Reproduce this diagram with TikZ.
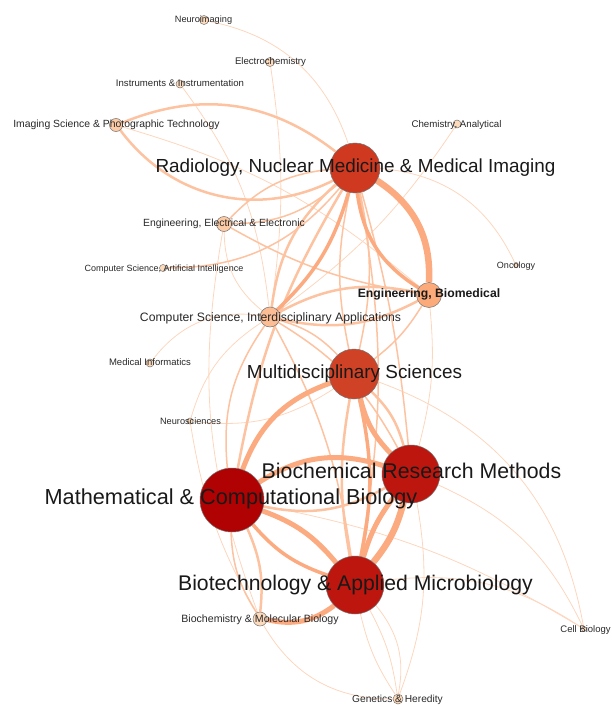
\documentclass[tikz,border=0pt]{standalone}
\usepackage{fontspec}
\setmainfont{Liberation Sans}
\pgfdeclarelayer{edges}
\pgfsetlayers{edges,main}

% node fills
\definecolor{radc}{RGB}{207,57,32}
\definecolor{msc}{RGB}{208,66,38}
\definecolor{brmc}{RGB}{189,22,14}
\definecolor{bamc}{RGB}{189,22,14}
\definecolor{mcbc}{RGB}{176,2,2}
\definecolor{ebc}{RGB}{252,170,122}
\definecolor{csic}{RGB}{252,188,148}
\definecolor{midc}{RGB}{253,202,166}
\definecolor{lowc}{RGB}{253,218,188}
% link colours
\definecolor{eThin}{RGB}{253,214,190}
\definecolor{eMid}{RGB}{253,194,160}
\definecolor{eThick}{RGB}{252,170,128}
\definecolor{labc}{RGB}{40,40,40}

\begin{document}
\begin{tikzpicture}[x=1pt,y=1pt,
  topic/.style={circle, draw=black!55, line width=0.5pt, inner sep=0pt, minimum size=#1},
  lab/.style={anchor=base, inner sep=0pt, text=labc},
  big/.style={lab, text=black!90, font=\fontsize{#1}{#1}\selectfont},
  small/.style={lab, font=\fontsize{#1}{#1}\selectfont},
  e1/.style={draw=eThin, line width=0.8pt},
  e2/.style={draw=eMid, line width=1.5pt},
  e3/.style={draw=eMid, line width=2.5pt},
  e4/.style={draw=eThick, line width=3.5pt},
  e5/.style={draw=eThick, line width=5pt},
  e6/.style={draw=eThick, line width=6.5pt},
]
\useasboundingbox (0,0) rectangle (611,-706);

% ---- topics ----
\node[topic=9,  fill=lowc] (ni)  at (204,-20)  {};
\node[topic=9,  fill=lowc] (ec)  at (270,-62)  {};
\node[topic=8,  fill=lowc] (ii)  at (180,-84)  {};
\node[topic=13, fill=midc] (is)  at (116,-125) {};
\node[topic=8,  fill=lowc] (ca)  at (457,-124) {};
\node[topic=50, fill=radc] (rad) at (355,-168) {};
\node[topic=15, fill=midc] (ee)  at (224,-224) {};
\node[topic=7,  fill=lowc] (ai)  at (163,-268) {};
\node[topic=5,  fill=lowc] (on)  at (516,-265) {};
\node[topic=25, fill=ebc]  (eb)  at (429,-295) {};
\node[topic=20, fill=csic] (csi) at (270,-317) {};
\node[topic=8,  fill=lowc] (mi)  at (150,-363) {};
\node[topic=50, fill=msc]  (ms)  at (354,-374) {};
\node[topic=6,  fill=lowc] (ns)  at (190,-421) {};
\node[topic=58, fill=brmc] (brm) at (411,-474) {};
\node[topic=64, fill=mcbc] (mcb) at (232,-500) {};
\node[topic=58, fill=bamc] (bam) at (355,-585) {};
\node[topic=14, fill=lowc] (bmb) at (260,-619) {};
\node[topic=5,  fill=lowc] (cb)  at (584,-629) {};
\node[topic=10, fill=lowc] (gh)  at (398,-699) {};

% ---- co-occurrence links ----
\begin{pgfonlayer}{edges}
\draw[e1] (ni) to[bend left=30] (rad);
\draw[e1] (ec) to[bend left=8] (csi);
\draw[e1] (ii) to[bend left=15] (csi);
\draw[e1] (is) to[bend left=12] (eb);
\draw[e1] (ca) to[bend left=10] (csi);
\draw[e1] (rad) to[bend left=30] (on);
\draw[e1] (mi) to[bend left=30] (csi);
\draw[e1] (ns) to[bend right=20] (ms);
\draw[e1] (ns) to[bend left=20] (csi);
\draw[e1] (ee) to[bend right=25] (csi);
\draw[e1] (ee) to[bend right=15] (bmb);
\draw[e1] (ms) to[bend left=30] (cb);
\draw[e1] (brm) to[bend left=20] (cb);
\draw[e1] (bam) to[bend left=20] (cb);
\draw[e1] (mcb) to[bend left=10] (cb);
\draw[e1] (bam) to[bend left=10] (gh);
\draw[e1] (bam) to[bend right=10] (gh);
\draw[e1] (bam) to[bend left=25] (gh);
\draw[e1] (bmb) to[bend right=30] (gh);
\draw[e1] (brm) to[bend left=15] (gh);
\draw[e1] (eb) to[bend left=10] (brm);
\draw[e1] (ns) to[bend right=10] (bmb);
\draw[e2] (ai) to[bend right=25] (rad);
\draw[e2] (ee) to[bend right=10] (eb);
\draw[e2] (rad) to[bend left=20] (ee);
\draw[e2] (rad) to[bend right=20] (ee);
\draw[e2] (rad) to[bend left=12] (ms);
\draw[e2] (rad) to[bend right=12] (ms);
\draw[e2] (csi) to[bend left=15] (ms);
\draw[e2] (csi) to[bend right=20] (mcb);
\draw[e2] (csi) to[bend left=10] (bam);
\draw[e2] (csi) to[bend left=15] (brm);
\draw[e2] (eb) to[bend left=10] (ms);
\draw[e2] (rad) to[bend left=10] (bam);
\draw[e2] (rad) to[bend left=5] (brm);
\draw[e2] (mcb) to[bend right=15] (bmb);
\draw[e3] (is) to[bend left=30] (rad);
\draw[e3] (is) to[bend right=40] (rad);
\draw[e3] (csi) to[bend left=20] (eb);
\draw[e3] (csi) to[bend right=20] (eb);
\draw[e3] (rad) to[bend right=20] (csi);
\draw[e3] (rad) to[bend right=10] (mcb);
\draw[e3] (ms) to[bend left=15] (brm);
\draw[e3] (ms) to[bend right=10] (bam);
\draw[e3] (mcb) to[bend right=20] (brm);
\draw[e3] (mcb) to[bend left=15] (bmb);
\draw[e4] (rad) to[bend left=15] (csi);
\draw[e4] (rad) to[bend right=25] (eb);
\draw[e4] (ms) to[bend left=12] (bam);
\draw[e4] (mcb) to[bend right=15] (bam);
\draw[e5] (ms) to[bend right=15] (brm);
\draw[e5] (ms) to[bend right=25] (mcb);
\draw[e5] (mcb) to[bend left=25] (brm);
\draw[e5] (mcb) to[bend left=15] (bam);
\draw[e5] (brm) to[bend right=10] (bam);
\draw[e5] (bmb) to[bend right=25] (bam);
\draw[e6] (rad) to[bend left=30] (eb);
\draw[e6] (brm) to[bend left=12] (bam);
\end{pgfonlayer}

% ---- labels ----
\node[small=9.2]  (niL)  at (203.5,-22.3) {Neuroimaging};
\node[small=9.6]  (ecL)  at (270.5,-64.5) {Electrochemistry};
\node[small=9.6]  (iiL)  at (180,-86.5)   {Instruments \& Instrumentation};
\node[small=10.4] (isL)  at (116.5,-127.7) {Imaging Science \& Photographic Technology};
\node[small=9.7]  (caL)  at (456.5,-127.5) {Chemistry, Analytical};
\node[big=18.9]   (radL) at (355.5,-172)  {Radiology, Nuclear Medicine \& Medical Imaging};
\node[small=10.4] (eeL)  at (224,-226.7)  {Engineering, Electrical \& Electronic};
\node[small=9]    (aiL)  at (164,-271.2)  {Computer Science, Artificial Intelligence};
\node[small=9]    (onL)  at (516,-268.2)  {Oncology};
\node[small=12.2, font=\fontsize{12.2}{12.2}\selectfont\bfseries, text=black!90] (ebL) at (429,-297.4) {Engineering, Biomedical};
\node[small=12.2] (csiL) at (270.5,-321.4) {Computer Science, Interdisciplinary Applications};
\node[small=9.5]  (miL)  at (150,-365.4)  {Medical Informatics};
\node[big=18.9]   (msL)  at (354.5,-378.8) {Multidisciplinary Sciences};
\node[small=9.2]  (nsL)  at (190.5,-424.3) {Neurosciences};
\node[big=21.3]   (brmL) at (411.5,-478.7) {Biochemical Research Methods};
\node[big=21.7]   (mcbL) at (231,-504.8)  {Mathematical \& Computational Biology};
\node[big=21.2]   (bamL) at (355.5,-590.6) {Biotechnology \& Applied Microbiology};
\node[small=10.6] (bmbL) at (260,-622.8)  {Biochemistry \& Molecular Biology};
\node[small=9.5]  (cbL)  at (585.5,-632.4) {Cell Biology};
\node[small=10.2] (ghL)  at (397.5,-702.7) {Genetics \& Heredity};
\end{tikzpicture}
\end{document}
